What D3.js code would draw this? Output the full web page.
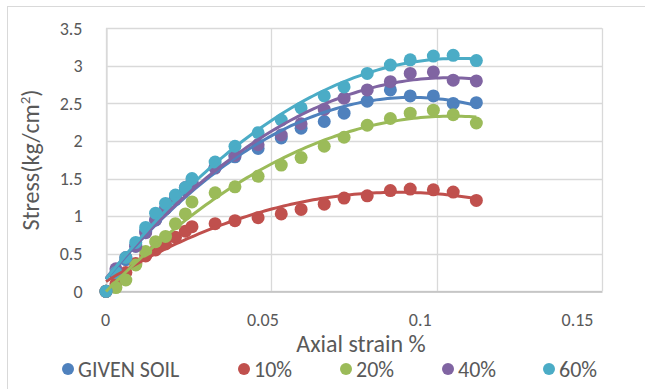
<!DOCTYPE html>
<html>
<head>
<meta charset="utf-8">
<script src="https://cdn.jsdelivr.net/npm/d3@7"></script>
<style>
  body { margin: 0; background: #fff; }
  text { font-family: Carlito, Lato, "Open Sans", sans-serif; fill: #595959; }
</style>
</head>
<body>
<div id="chart"></div>
<script>
// strain values (shared by every series)
var strain = [0, 0.003, 0.006, 0.009, 0.012, 0.015, 0.018, 0.021, 0.024, 0.026,
  0.033, 0.039, 0.046, 0.053, 0.059, 0.066, 0.072, 0.079, 0.086, 0.092, 0.099, 0.105, 0.112];

var seriesNames = ["GIVEN SOIL", "10%", "20%", "40%", "60%"];
var seriesColors = ["#4F81BD", "#C0504D", "#9BBB59", "#8064A2", "#4BACC6"];

var givenSoil = [0, 0.22, 0.42, 0.6, 0.8, 0.95, 1.1, 1.22, 1.35, 1.45,
  1.65, 1.79, 1.9, 2.04, 2.17, 2.26, 2.37, 2.53, 2.68, 2.6, 2.6, 2.5, 2.51];
var tenPct = [0, 0.1, 0.25, 0.37, 0.47, 0.55, 0.63, 0.72, 0.8, 0.86,
  0.9, 0.94, 0.98, 1.03, 1.09, 1.16, 1.24, 1.27, 1.34, 1.36, 1.35, 1.32, 1.21];
var twentyPct = [0, 0.05, 0.15, 0.35, 0.53, 0.66, 0.73, 0.9, 1.03, 1.19,
  1.31, 1.39, 1.53, 1.68, 1.78, 1.93, 2.05, 2.21, 2.3, 2.37, 2.41, 2.35, 2.24];
var fortyPct = [0, 0.3, 0.45, 0.6, 0.78, 0.95, 1.1, 1.25, 1.38, 1.45,
  1.64, 1.81, 1.95, 2.08, 2.23, 2.42, 2.57, 2.68, 2.79, 2.9, 2.92, 2.81, 2.8];
var sixtyPct = [0, 0.25, 0.45, 0.65, 0.85, 1.04, 1.17, 1.28, 1.38, 1.5,
  1.72, 1.93, 2.11, 2.28, 2.44, 2.6, 2.72, 2.9, 3.01, 3.08, 3.13, 3.14, 3.07];

var xTicks = [0, 0.05, 0.1, 0.15];
var yTicks = [0, 0.5, 1, 1.5, 2, 2.5, 3, 3.5];

var allSeries = [givenSoil, tenPct, twentyPct, fortyPct, sixtyPct];

var width = 645, height = 389;
var svg = d3.select("#chart").append("svg")
  .attr("width", width).attr("height", height);

// chart border
svg.append("rect")
  .attr("x", 7.5).attr("y", 6.5)
  .attr("width", 650).attr("height", 400)
  .attr("fill", "none").attr("stroke", "#D9D9D9");

var x = d3.scaleLinear().domain([0, 0.15]).range([106, 602]);
var y = d3.scaleLinear().domain([0, 3.5]).range([291.3, 28.3]);
// the tick texts sit on a slightly narrower span than the gridlines
var xLabel = d3.scaleLinear().domain([0, 0.15]).range([105, 577]);

// gridlines
svg.append("g").selectAll("line").data(yTicks).enter().append("line")
  .attr("x1", x(0)).attr("x2", x(0.15))
  .attr("y1", d => Math.round(y(d)) + 0.5).attr("y2", d => Math.round(y(d)) + 0.5)
  .attr("stroke", "#D9D9D9").attr("stroke-width", 1.3);
svg.append("g").selectAll("line").data(xTicks).enter().append("line")
  .attr("y1", y(0)).attr("y2", y(3.5))
  .attr("x1", d => Math.round(x(d)) + 0.5).attr("x2", d => Math.round(x(d)) + 0.5)
  .attr("stroke", "#D9D9D9").attr("stroke-width", 1.3);

// axes
var xAxis = svg.append("g")
  .attr("transform", "translate(0," + (Math.round(y(0)) + 0.5) + ")")
  .call(d3.axisBottom(x).tickValues(xTicks).tickSize(0).tickPadding(22)
    .tickFormat(d => d3.format("")(d)));
xAxis.select(".domain").attr("stroke", "#BFBFBF").attr("stroke-width", 1.3);
xAxis.selectAll("text").style("font-size", "18px").attr("fill", "#595959")
  .attr("x", d => xLabel(d) - x(d));

var yAxis = svg.append("g")
  .attr("transform", "translate(" + (Math.round(x(0)) + 0.5) + ",0)")
  .call(d3.axisLeft(y).tickValues(yTicks).tickSize(0).tickPadding(24)
    .tickFormat(d => d3.format("")(d)));
yAxis.select(".domain").attr("stroke", "#D9D9D9").attr("stroke-width", 1.3);
yAxis.selectAll("text").style("font-size", "18px").attr("fill", "#595959");

// least squares quadratic trendline
function quadFit(xs, ys) {
  var n = xs.length, s = [0, 0, 0, 0, 0], t = [0, 0, 0];
  for (var i = 0; i < n; i++) {
    var p = 1;
    for (var k = 0; k < 5; k++) { s[k] += p; if (k < 3) t[k] += p * ys[i]; p *= xs[i]; }
  }
  var A = [[s[0], s[1], s[2], t[0]], [s[1], s[2], s[3], t[1]], [s[2], s[3], s[4], t[2]]];
  for (var c = 0; c < 3; c++) {
    for (var r = c + 1; r < 3; r++) {
      var f = A[r][c] / A[c][c];
      for (var j = c; j < 4; j++) A[r][j] -= f * A[c][j];
    }
  }
  var b = [0, 0, 0];
  for (var r2 = 2; r2 >= 0; r2--) {
    var sum = A[r2][3];
    for (var j2 = r2 + 1; j2 < 3; j2++) sum -= A[r2][j2] * b[j2];
    b[r2] = sum / A[r2][r2];
  }
  return b;
}

// markers
allSeries.forEach(function (vals, si) {
  svg.append("g").selectAll("circle").data(vals).enter().append("circle")
    .attr("cx", (d, i) => x(strain[i]))
    .attr("cy", d => y(d))
    .attr("r", 6.5)
    .attr("fill", seriesColors[si]);
});

// trendlines on top
var line = d3.line().x(d => x(d[0])).y(d => y(d[1]));
allSeries.forEach(function (vals, si) {
  var b = quadFit(strain, vals);
  var pts = d3.range(0, 101).map(function (k) {
    var xv = strain[strain.length - 1] * k / 100;
    return [xv, b[0] + b[1] * xv + b[2] * xv * xv];
  });
  svg.append("path").datum(pts)
    .attr("d", line)
    .attr("fill", "none")
    .attr("stroke", seriesColors[si])
    .attr("stroke-width", 3);
});

// axis titles
svg.append("text")
  .attr("x", 361).attr("y", 352)
  .attr("text-anchor", "middle")
  .style("font-size", "24px")
  .text("Axial strain %");

var yt = svg.append("text")
  .attr("transform", "translate(39,160) rotate(-90)")
  .attr("text-anchor", "middle")
  .style("font-size", "24px");
yt.append("tspan").text("Stress(kg/cm");
yt.append("tspan").attr("dy", -9).style("font-size", "15px").text("2");
yt.append("tspan").attr("dy", 9).text(")");

// legend
var legendX = [68, 244, 346, 448, 549];
var legend = svg.append("g").selectAll("g").data(seriesNames).enter().append("g")
  .attr("transform", (d, i) => "translate(" + legendX[i] + ",369)");
legend.append("circle").attr("r", 6).attr("fill", (d, i) => seriesColors[i]);
legend.append("text").attr("x", 10).attr("y", 8)
  .style("font-size", "22px").text(d => d);
</script>
</body>
</html>
